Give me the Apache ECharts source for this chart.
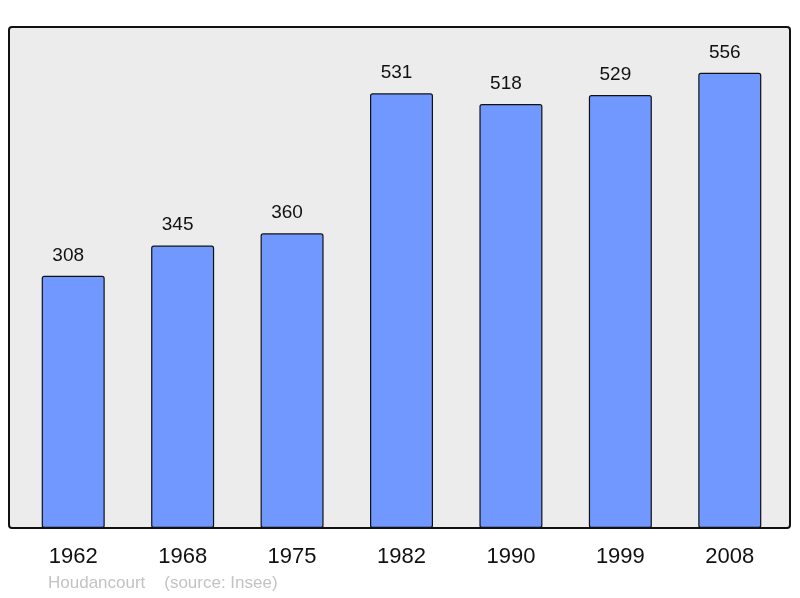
<!DOCTYPE html>
<html>
<head>
<meta charset="utf-8">
<script src="https://cdn.jsdelivr.net/npm/echarts@6/dist/echarts.min.js"></script>
<style>
  html, body { margin: 0; padding: 0; background: #fff; }
  #chart { width: 800px; height: 598px; }
</style>
</head>
<body>
<div id="chart"></div>
<script>
var years = ['1962', '1968', '1975', '1982', '1990', '1999', '2008'];
var population = [308, 345, 360, 531, 518, 529, 556];
var sourceText = 'Houdancourt    (source: Insee)';

var chart = echarts.init(document.getElementById('chart'));

var option = {
    animation: false,
    backgroundColor: '#ffffff',
    textStyle: { fontFamily: 'Liberation Sans, Arial, sans-serif' },
    grid: { left: 18.5, width: 766, top: 27, bottom: 70 },
    graphic: [
        {
            type: 'rect',
            z: -10,
            shape: { x: 9, y: 27, width: 781, height: 501, r: 3 },
            style: { fill: '#ececec', stroke: '#111', lineWidth: 2 }
        },
        {
            type: 'text',
            left: 48,
            top: 575,
            style: {
                text: sourceText,
                fill: '#c3c3c3',
                font: '17px Liberation Sans, Arial, sans-serif'
            }
        }
    ],
    xAxis: {
        type: 'category',
        data: years,
        axisLine: { show: false },
        axisTick: { show: false },
        axisLabel: { color: '#111', fontSize: 22, margin: 18 }
    },
    yAxis: {
        type: 'value',
        min: 0,
        max: 612,
        show: false,
        splitLine: { show: false }
    },
    series: [
        {
            type: 'bar',
            data: population,
            barWidth: 63,
            itemStyle: {
                color: '#7098ff',
                borderColor: '#111',
                borderWidth: 1.2,
                borderRadius: 2
            },
            label: {
                show: true,
                position: 'top',
                distance: 11,
                offset: [-5, 0],
                color: '#111',
                fontSize: 19
            }
        }
    ]
};

chart.setOption(option);
</script>
</body>
</html>
